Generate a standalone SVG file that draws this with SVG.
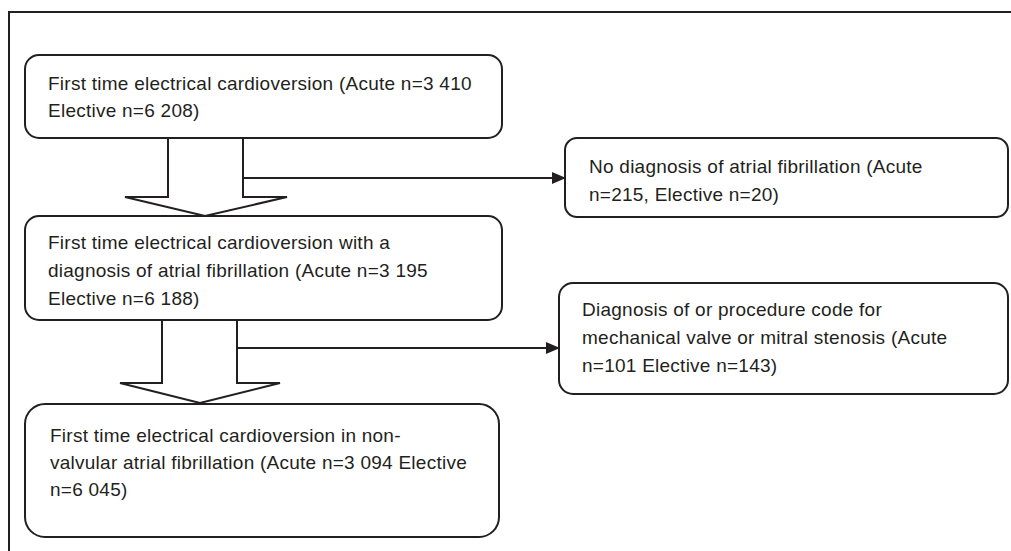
<svg xmlns="http://www.w3.org/2000/svg" width="1011" height="551" viewBox="0 0 1011 551">
<style>
.box{fill:#fff;stroke:#231f20;stroke-width:2}
.blk{fill:#fff;stroke:#231f20;stroke-width:2;stroke-linejoin:miter}
.ln{fill:none;stroke:#231f20;stroke-width:2}
text{font-family:"Liberation Sans",Arial,sans-serif;font-size:19px;letter-spacing:0.25px;fill:#231f20}
</style>
<defs>
<marker id="ah" markerWidth="14" markerHeight="12" refX="13" refY="6" orient="auto" markerUnits="userSpaceOnUse">
<path d="M0,0 L14,6 L0,12 Z" fill="#231f20"/>
</marker>
</defs>
<path class="ln" d="M9,551 L9,12 L1011,12"/>
<g id="connectors">
<path class="blk" d="M168,138 L168,197 L125,197 L205,216 L287,197 L243,197 L243,138"/>
<path class="blk" d="M162,320 L162,383 L120,383 L200,403 L280,383 L237,383 L237,320"/>
<line class="ln" x1="243" y1="178" x2="565" y2="178" marker-end="url(#ah)"/>
<line class="ln" x1="237" y1="348" x2="559" y2="348" marker-end="url(#ah)"/>
</g>
<g id="n1">
<rect class="box" x="25" y="55" width="477" height="83" rx="14"/>
<text x="48" y="90">First time electrical cardioversion (Acute n=3 410</text>
<text x="48" y="117">Elective n=6 208)</text>
</g>
<g id="n2">
<rect class="box" x="565" y="138" width="443" height="79" rx="12"/>
<text x="589" y="173">No diagnosis of atrial fibrillation (Acute</text>
<text x="589" y="201">n=215, Elective n=20)</text>
</g>
<g id="n3">
<rect class="box" x="25" y="216" width="477" height="104" rx="14"/>
<text x="48" y="249">First time electrical cardioversion with a</text>
<text x="48" y="277">diagnosis of atrial fibrillation (Acute n=3 195</text>
<text x="48" y="305">Elective n=6 188)</text>
</g>
<g id="n4">
<rect class="box" x="559" y="283" width="449" height="111" rx="14"/>
<text x="582" y="316">Diagnosis of or procedure code for</text>
<text x="582" y="344">mechanical valve or mitral stenosis (Acute</text>
<text x="582" y="372">n=101 Elective n=143)</text>
</g>
<g id="n5">
<rect class="box" x="25" y="404" width="474" height="133" rx="20"/>
<text x="50" y="442">First time electrical cardioversion in non-</text>
<text x="50" y="469">valvular atrial fibrillation (Acute n=3 094 Elective</text>
<text x="50" y="496">n=6 045)</text>
</g>
</svg>
